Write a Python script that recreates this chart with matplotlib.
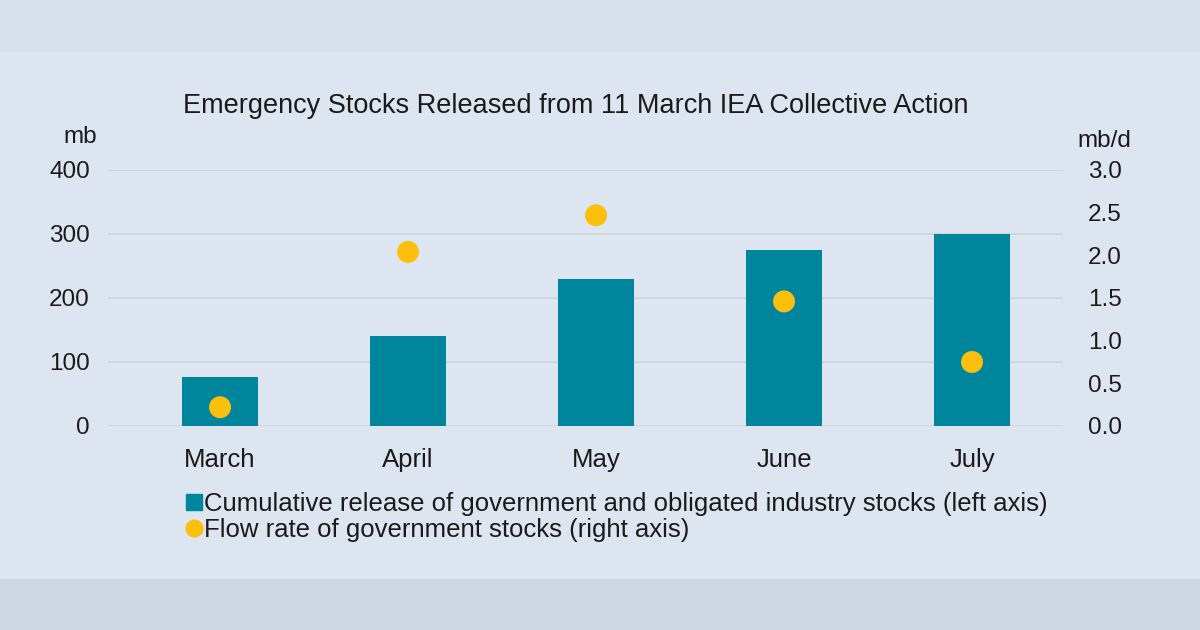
import matplotlib.pyplot as plt
from matplotlib.patches import Rectangle
from matplotlib.lines import Line2D
import numpy as np

plt.rcParams['font.family'] = ['Liberation Sans', 'DejaVu Sans']

# Data
months = ["March", "April", "May", "June", "July"]
cumulative_mb = [76, 140, 229, 275, 300]          # left axis, mb
flow_rate_mbd = [0.22, 2.04, 2.47, 1.46, 0.75]   # right axis, mb/d

left_ticks = [0, 100, 200, 300, 400]
right_ticks = [0.0, 0.5, 1.0, 1.5, 2.0, 2.5, 3.0]

bg = "#dce5f0"
teal = "#00869c"
gold = "#fbbf0c"
txt = "#1a1a1a"

fig = plt.figure(figsize=(12, 6.3), dpi=100)
fig.patch.set_facecolor(bg)
# top and bottom bands of the page
fig.patches.append(Rectangle((0, 1 - 52 / 630), 1, 52 / 630, transform=fig.transFigure,
                             facecolor="#d8e1eb", edgecolor="none", zorder=0))
fig.patches.append(Rectangle((0, 0), 1, 51 / 630, transform=fig.transFigure,
                             facecolor="#cdd6e1", edgecolor="none", zorder=0))

ax = fig.add_axes([108 / 1200, 1 - 426 / 630, (1063 - 108) / 1200, (426 - 170) / 630])
ax.set_facecolor("none")
x = np.arange(len(months))
ax.bar(x, cumulative_mb, width=0.40, color=teal, zorder=2)
ax.set_ylim(0, 400)
ax.set_xlim(-0.596, 4.484)
ax.set_yticks(left_ticks)
ax.set_xticks(x)
ax.set_xticklabels(months)
ax.grid(axis="y", color="#cfd5dc", linewidth=1.2, zorder=0)
ax.set_axisbelow(True)
for s in ax.spines.values():
    s.set_visible(False)
ax.tick_params(axis="y", length=0, pad=13, labelsize=17.5, colors=txt)
ax.tick_params(axis="x", length=0, pad=16, labelsize=18.5, colors=txt)

ax2 = ax.twinx()
ax2.set_ylim(0, 3.0)
ax2.set_yticks(right_ticks)
ax2.set_yticklabels([f"{v:.1f}" for v in right_ticks])
ax2.scatter(x, flow_rate_mbd, s=250, color=gold, edgecolors="none", zorder=3)
for s in ax2.spines.values():
    s.set_visible(False)
ax2.tick_params(axis="y", length=0, pad=18, labelsize=17.5, colors=txt)

fig.text(97 / 1200, 1 - 137 / 630, "mb", ha="right", va="center", fontsize=17.5, color=txt)
fig.text(1104 / 1200, 1 - 141 / 630, "mb/d", ha="center", va="center", fontsize=17.5, color=txt)
fig.text(576 / 1200, 1 - 106 / 630, "Emergency Stocks Released from 11 March IEA Collective Action",
         ha="center", va="center", fontsize=19.5, color=txt)

handles = [
    Line2D([], [], marker="s", linestyle="none", markersize=12, color=teal),
    Line2D([], [], marker="o", linestyle="none", markersize=12, color=gold),
]
labels = [
    "Cumulative release of government and obligated industry stocks (left axis)",
    "Flow rate of government stocks (right axis)",
]
fig.legend(handles, labels, loc="upper left", bbox_to_anchor=(186 / 1200, 1 - 492 / 630),
           frameon=False, fontsize=18.5, handlelength=0.6, handletextpad=0.1,
           labelspacing=0.08, borderpad=0, borderaxespad=0, labelcolor=txt)

fig.savefig("out.png", dpi=100, facecolor=fig.get_facecolor())
